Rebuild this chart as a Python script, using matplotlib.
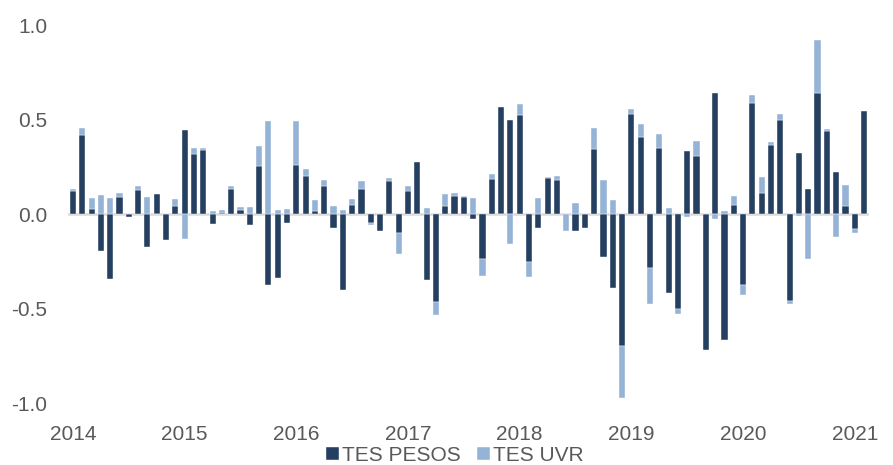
import matplotlib
matplotlib.use("Agg")
import matplotlib.pyplot as plt
import numpy as np
from matplotlib import font_manager

# Monthly data Jan 2014 - Feb 2021
years = ["2014", "2015", "2016", "2017", "2018", "2019", "2020", "2021"]

tes_pesos = [
    # 2014
    0.12, 0.42, 0.026, -0.195, -0.345, 0.09, -0.015, 0.127, -0.175, 0.105, -0.14, 0.04,
    # 2015
    0.445, 0.315, 0.34, -0.053, 0.007, 0.13, 0.02, -0.06, 0.255, -0.375, -0.34, -0.045,
    # 2016
    0.26, 0.20, 0.015, 0.15, -0.075, -0.40, 0.05, 0.13, -0.045, -0.09, 0.175, -0.10,
    # 2017
    0.12, 0.275, -0.35, -0.465, 0.045, 0.095, 0.09, -0.028, -0.24, 0.185, 0.565, 0.50,
    # 2018
    0.525, -0.255, -0.075, 0.19, 0.18, 0.0, -0.088, -0.075, 0.345, -0.23, -0.39, -0.70,
    # 2019
    0.53, 0.41, -0.285, 0.35, -0.42, -0.50, 0.335, 0.305, -0.72, 0.64, -0.665, 0.05,
    # 2020
    -0.375, 0.59, 0.11, 0.365, 0.50, -0.46, 0.325, 0.13, 0.64, 0.44, 0.22, 0.043,
    # 2021
    -0.08, 0.545,
]

tes_uvr = [
    # 2014
    0.015, 0.035, 0.06, 0.10, 0.085, 0.02, 0.0, 0.02, 0.09, 0.0, 0.0, 0.04,
    # 2015
    -0.134, 0.035, 0.01, 0.016, 0.014, 0.02, 0.015, 0.035, 0.105, 0.49, 0.02, 0.026,
    # 2016
    0.23, 0.04, 0.06, 0.03, 0.045, 0.02, 0.03, 0.045, -0.012, 0.0, 0.015, -0.11,
    # 2017
    0.03, 0.0, 0.03, -0.07, 0.06, 0.015, 0.005, 0.085, -0.09, 0.025, 0.0, -0.16,
    # 2018
    0.055, -0.08, 0.085, 0.005, 0.02, -0.09, 0.06, 0.0, 0.11, 0.18, 0.075, -0.275,
    # 2019
    0.025, 0.065, -0.19, 0.075, 0.03, -0.03, -0.015, 0.08, 0.0, -0.025, 0.015, 0.045,
    # 2020
    -0.055, 0.04, 0.085, 0.015, 0.03, -0.015, -0.01, -0.24, 0.28, 0.01, -0.12, 0.11,
    # 2021
    -0.02, 0.0,
]

y_ticks = [-1.0, -0.5, 0.0, 0.5, 1.0]
y_labels = ["-1.0", "-0.5", "0.0", "0.5", "1.0"]

plt.rcParams["font.family"] = ["Liberation Sans", "DejaVu Sans"]

dark = "#243f60"
light = "#95b3d7"
text_col = "#595959"

d = np.array(tes_pesos)
l = np.array(tes_uvr)
x = np.arange(len(d))
bottom_l = np.where(np.sign(d) == np.sign(l), d, 0.0)

fig = plt.figure(figsize=(8.93, 4.65), dpi=100)
ax = fig.add_axes([0.0765, 0.1333, 0.8963, 0.8129])

w = 0.66
ax.bar(x, d, width=w, color=dark, edgecolor="white", linewidth=0.3, label="TES PESOS", zorder=2)
ax.bar(x, l, width=w, bottom=bottom_l, color=light, edgecolor="white", linewidth=0.3, label="TES UVR", zorder=2)

ax.axhline(0, color="#d9d9d9", linewidth=1.8, zorder=1)

ax.set_xlim(-0.5, len(d) - 0.5)
ax.set_ylim(-1.0, 1.0)
ax.set_yticks(y_ticks)
ax.set_yticklabels(y_labels)
ax.set_xticks(np.arange(0, len(d), 12))
ax.set_xticklabels(years)

for s in ax.spines.values():
    s.set_visible(False)
ax.tick_params(axis="y", length=0, pad=15, labelsize=15, labelcolor=text_col)
ax.tick_params(axis="x", length=0, pad=16, labelsize=15, labelcolor=text_col)

fig.legend(loc="center", bbox_to_anchor=(455 / 893, 1 - 455 / 465), ncol=2, frameon=False,
           fontsize=15, handlelength=0.6, handleheight=0.6, handletextpad=0.15,
           columnspacing=0.8, labelcolor=text_col)

fig.savefig("out.png", dpi=100)
